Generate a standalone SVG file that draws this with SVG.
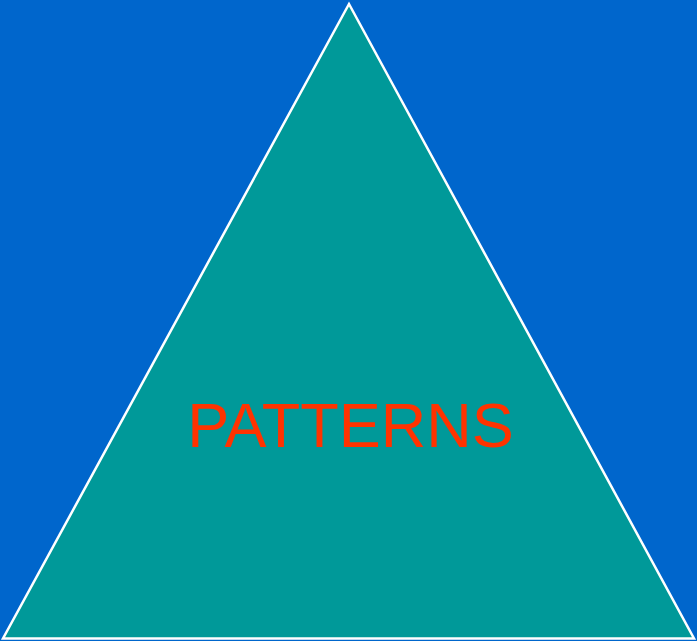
<svg xmlns="http://www.w3.org/2000/svg" width="697" height="641" viewBox="0 0 697 641">
<style>
.lbl{font-family:"Liberation Sans",Arial,sans-serif;font-size:63px;fill:#FF3300;text-anchor:middle}
</style>
<rect x="0" y="0" width="697" height="641" fill="#0066CC"/>
<g id="triangle">
<polygon points="349,4 3,638.5 694,638.5" fill="#009999" stroke="#FFFFFF" stroke-width="2.5" stroke-linejoin="miter"/>
<text class="lbl" x="350.5" y="447">PATTERNS</text>
</g>
</svg>
